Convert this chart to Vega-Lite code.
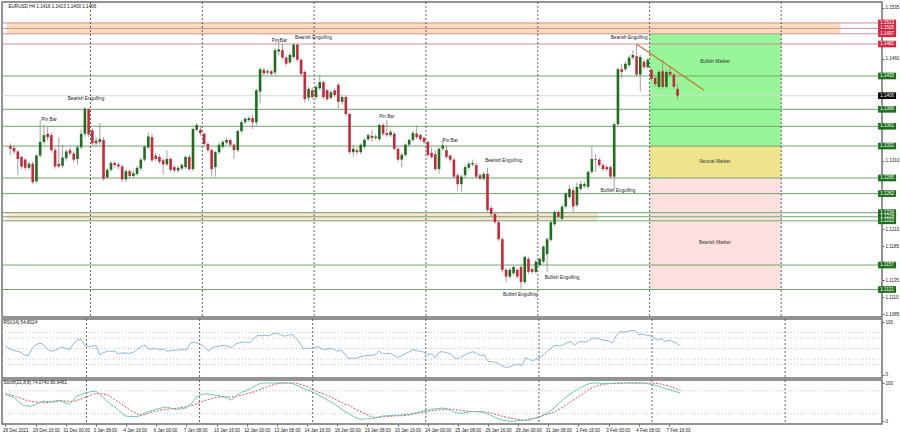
{
"$schema":"https://vega.github.io/schema/vega-lite/v6.json",
"padding":0,
"spacing":2,
"bounds":"flush",
"background":"white",
"config":{"view":{"stroke":"#707070","strokeWidth":1.5},"font":"Liberation Sans","axis":{"labelFont":"Liberation Sans","labelFontSize":4.5,"labelColor":"#222","tickColor":"#666","tickSize":2,"labelPadding":1,"domain":false,"grid":false}},
"datasets":{
"bars":[
{"i":0,"o":1.1332,"h":1.1336,"l":1.1318,"c":1.1328,"r":56,"k":70,"d":73},
{"i":1,"o":1.1329,"h":1.1333,"l":1.1320,"c":1.1324,"r":50,"k":67,"d":70},
{"i":2,"o":1.1324,"h":1.1326,"l":1.1289,"c":1.1313,"r":47,"k":64,"d":67},
{"i":3,"o":1.1316,"h":1.1318,"l":1.1298,"c":1.1302,"r":45,"k":56,"d":64},
{"i":4,"o":1.1312,"h":1.1314,"l":1.1296,"c":1.1300,"r":43,"k":48,"d":61},
{"i":5,"o":1.1300,"h":1.1309,"l":1.1297,"c":1.1306,"r":38,"k":41,"d":57},
{"i":6,"o":1.1306,"h":1.1309,"l":1.1276,"c":1.1279,"r":36,"k":40,"d":54},
{"i":7,"o":1.1280,"h":1.1320,"l":1.1278,"c":1.1318,"r":49,"k":40,"d":52},
{"i":8,"o":1.1318,"h":1.1370,"l":1.1315,"c":1.1338,"r":57,"k":44,"d":51},
{"i":9,"o":1.1338,"h":1.1363,"l":1.1334,"c":1.1348,"r":60,"k":49,"d":50},
{"i":10,"o":1.1350,"h":1.1360,"l":1.1340,"c":1.1345,"r":58,"k":53,"d":49},
{"i":11,"o":1.1348,"h":1.1352,"l":1.1322,"c":1.1326,"r":50,"k":52,"d":49},
{"i":12,"o":1.1326,"h":1.1330,"l":1.1299,"c":1.1302,"r":45,"k":51,"d":50},
{"i":13,"o":1.1306,"h":1.1345,"l":1.1299,"c":1.1302,"r":46,"k":53,"d":51},
{"i":14,"o":1.1303,"h":1.1334,"l":1.1300,"c":1.1315,"r":49,"k":55,"d":53},
{"i":15,"o":1.1314,"h":1.1327,"l":1.1310,"c":1.1324,"r":53,"k":52,"d":54},
{"i":16,"o":1.1326,"h":1.1330,"l":1.1318,"c":1.1321,"r":50,"k":48,"d":53},
{"i":17,"o":1.1321,"h":1.1324,"l":1.1308,"c":1.1312,"r":48,"k":45,"d":52},
{"i":18,"o":1.1313,"h":1.1333,"l":1.1305,"c":1.1330,"r":58,"k":55,"d":52},
{"i":19,"o":1.1330,"h":1.1356,"l":1.1327,"c":1.1350,"r":66,"k":66,"d":55},
{"i":20,"o":1.1350,"h":1.1389,"l":1.1345,"c":1.1387,"r":67,"k":70,"d":58},
{"i":21,"o":1.1386,"h":1.1388,"l":1.1345,"c":1.1349,"r":57,"k":74,"d":62},
{"i":22,"o":1.1355,"h":1.1358,"l":1.1333,"c":1.1336,"r":54,"k":76,"d":66},
{"i":23,"o":1.1340,"h":1.1345,"l":1.1331,"c":1.1336,"r":54,"k":78,"d":70},
{"i":24,"o":1.1338,"h":1.1366,"l":1.1334,"c":1.1342,"r":56,"k":79,"d":73},
{"i":25,"o":1.1341,"h":1.1345,"l":1.1281,"c":1.1284,"r":38,"k":70,"d":73},
{"i":26,"o":1.1286,"h":1.1300,"l":1.1283,"c":1.1297,"r":42,"k":62,"d":71},
{"i":27,"o":1.1297,"h":1.1310,"l":1.1294,"c":1.1307,"r":45,"k":52,"d":70},
{"i":28,"o":1.1307,"h":1.1310,"l":1.1300,"c":1.1304,"r":45,"k":44,"d":64},
{"i":29,"o":1.1305,"h":1.1308,"l":1.1298,"c":1.1302,"r":45,"k":38,"d":57},
{"i":30,"o":1.1302,"h":1.1305,"l":1.1279,"c":1.1283,"r":40,"k":30,"d":51},
{"i":31,"o":1.1283,"h":1.1298,"l":1.1279,"c":1.1295,"r":42,"k":20,"d":44},
{"i":32,"o":1.1295,"h":1.1298,"l":1.1284,"c":1.1288,"r":41,"k":14,"d":37},
{"i":33,"o":1.1288,"h":1.1296,"l":1.1285,"c":1.1292,"r":41,"k":13,"d":30},
{"i":34,"o":1.1291,"h":1.1303,"l":1.1288,"c":1.1300,"r":43,"k":13,"d":25},
{"i":35,"o":1.1299,"h":1.1315,"l":1.1296,"c":1.1312,"r":48,"k":13,"d":20},
{"i":36,"o":1.1312,"h":1.1334,"l":1.1309,"c":1.1331,"r":54,"k":17,"d":16},
{"i":37,"o":1.1330,"h":1.1352,"l":1.1327,"c":1.1346,"r":56,"k":22,"d":18},
{"i":38,"o":1.1345,"h":1.1350,"l":1.1308,"c":1.1311,"r":49,"k":26,"d":22},
{"i":39,"o":1.1318,"h":1.1322,"l":1.1310,"c":1.1313,"r":49,"k":29,"d":25},
{"i":40,"o":1.1316,"h":1.1320,"l":1.1306,"c":1.1309,"r":50,"k":32,"d":27},
{"i":41,"o":1.1311,"h":1.1314,"l":1.1290,"c":1.1305,"r":48,"k":34,"d":29},
{"i":42,"o":1.1305,"h":1.1326,"l":1.1302,"c":1.1313,"r":49,"k":37,"d":31},
{"i":43,"o":1.1313,"h":1.1316,"l":1.1294,"c":1.1297,"r":45,"k":37,"d":32},
{"i":44,"o":1.1301,"h":1.1304,"l":1.1293,"c":1.1296,"r":46,"k":34,"d":33},
{"i":45,"o":1.1296,"h":1.1303,"l":1.1293,"c":1.1300,"r":47,"k":32,"d":34},
{"i":46,"o":1.1299,"h":1.1307,"l":1.1296,"c":1.1304,"r":47,"k":32,"d":35},
{"i":47,"o":1.1301,"h":1.1318,"l":1.1298,"c":1.1316,"r":48,"k":33,"d":37},
{"i":48,"o":1.1316,"h":1.1319,"l":1.1295,"c":1.1298,"r":47,"k":36,"d":39},
{"i":49,"o":1.1298,"h":1.1359,"l":1.1295,"c":1.1357,"r":60,"k":42,"d":41},
{"i":50,"o":1.1356,"h":1.1366,"l":1.1353,"c":1.1363,"r":62,"k":55,"d":43},
{"i":51,"o":1.1356,"h":1.1362,"l":1.1347,"c":1.1351,"r":60,"k":66,"d":47},
{"i":52,"o":1.1350,"h":1.1352,"l":1.1332,"c":1.1335,"r":57,"k":70,"d":51},
{"i":53,"o":1.1335,"h":1.1338,"l":1.1322,"c":1.1326,"r":52,"k":72,"d":55},
{"i":54,"o":1.1326,"h":1.1328,"l":1.1287,"c":1.1298,"r":45,"k":71,"d":57},
{"i":55,"o":1.1301,"h":1.1325,"l":1.1287,"c":1.1323,"r":52,"k":69,"d":60},
{"i":56,"o":1.1323,"h":1.1337,"l":1.1320,"c":1.1334,"r":54,"k":68,"d":63},
{"i":57,"o":1.1331,"h":1.1341,"l":1.1328,"c":1.1338,"r":55,"k":66,"d":64},
{"i":58,"o":1.1337,"h":1.1344,"l":1.1334,"c":1.1341,"r":56,"k":64,"d":64},
{"i":59,"o":1.1341,"h":1.1343,"l":1.1331,"c":1.1334,"r":54,"k":60,"d":64},
{"i":60,"o":1.1334,"h":1.1336,"l":1.1313,"c":1.1326,"r":52,"k":56,"d":64},
{"i":61,"o":1.1326,"h":1.1356,"l":1.1323,"c":1.1354,"r":58,"k":64,"d":65},
{"i":62,"o":1.1354,"h":1.1370,"l":1.1351,"c":1.1367,"r":61,"k":72,"d":67},
{"i":63,"o":1.1367,"h":1.1375,"l":1.1364,"c":1.1372,"r":62,"k":77,"d":69},
{"i":64,"o":1.1370,"h":1.1376,"l":1.1367,"c":1.1373,"r":62,"k":81,"d":72},
{"i":65,"o":1.1373,"h":1.1378,"l":1.1357,"c":1.1367,"r":61,"k":86,"d":75},
{"i":66,"o":1.1367,"h":1.1416,"l":1.1362,"c":1.1414,"r":70,"k":91,"d":77},
{"i":67,"o":1.1412,"h":1.1448,"l":1.1395,"c":1.1445,"r":75,"k":96,"d":81},
{"i":68,"o":1.1444,"h":1.1447,"l":1.1436,"c":1.1439,"r":74,"k":100,"d":85},
{"i":69,"o":1.1440,"h":1.1445,"l":1.1437,"c":1.1442,"r":75,"k":100,"d":89},
{"i":70,"o":1.1442,"h":1.1444,"l":1.1435,"c":1.1438,"r":74,"k":100,"d":92},
{"i":71,"o":1.1440,"h":1.1476,"l":1.1436,"c":1.1473,"r":78,"k":100,"d":95},
{"i":72,"o":1.1471,"h":1.1490,"l":1.1465,"c":1.1474,"r":79,"k":100,"d":98},
{"i":73,"o":1.1473,"h":1.1482,"l":1.1459,"c":1.1462,"r":76,"k":100,"d":100},
{"i":74,"o":1.1462,"h":1.1464,"l":1.1450,"c":1.1453,"r":73,"k":100,"d":100},
{"i":75,"o":1.1455,"h":1.1469,"l":1.1452,"c":1.1466,"r":75,"k":100,"d":100},
{"i":76,"o":1.1463,"h":1.1484,"l":1.1460,"c":1.1481,"r":77,"k":99,"d":100},
{"i":77,"o":1.1481,"h":1.1483,"l":1.1456,"c":1.1459,"r":70,"k":95,"d":100},
{"i":78,"o":1.1459,"h":1.1461,"l":1.1435,"c":1.1438,"r":62,"k":91,"d":97},
{"i":79,"o":1.1441,"h":1.1443,"l":1.1396,"c":1.1401,"r":49,"k":86,"d":94},
{"i":80,"o":1.1403,"h":1.1419,"l":1.1398,"c":1.1416,"r":51,"k":82,"d":91},
{"i":81,"o":1.1414,"h":1.1418,"l":1.1401,"c":1.1404,"r":50,"k":79,"d":86},
{"i":82,"o":1.1404,"h":1.1422,"l":1.1400,"c":1.1419,"r":52,"k":74,"d":81},
{"i":83,"o":1.1417,"h":1.1437,"l":1.1414,"c":1.1426,"r":53,"k":69,"d":76},
{"i":84,"o":1.1426,"h":1.1428,"l":1.1401,"c":1.1404,"r":49,"k":64,"d":73},
{"i":85,"o":1.1414,"h":1.1416,"l":1.1398,"c":1.1401,"r":48,"k":58,"d":69},
{"i":86,"o":1.1403,"h":1.1414,"l":1.1400,"c":1.1411,"r":50,"k":52,"d":65},
{"i":87,"o":1.1414,"h":1.1417,"l":1.1404,"c":1.1407,"r":49,"k":47,"d":60},
{"i":88,"o":1.1422,"h":1.1425,"l":1.1387,"c":1.1397,"r":45,"k":40,"d":55},
{"i":89,"o":1.1397,"h":1.1408,"l":1.1393,"c":1.1404,"r":47,"k":33,"d":50},
{"i":90,"o":1.1404,"h":1.1407,"l":1.1376,"c":1.1379,"r":40,"k":26,"d":45},
{"i":91,"o":1.1379,"h":1.1381,"l":1.1320,"c":1.1323,"r":31,"k":21,"d":43},
{"i":92,"o":1.1323,"h":1.1334,"l":1.1316,"c":1.1328,"r":32,"k":15,"d":37},
{"i":93,"o":1.1326,"h":1.1330,"l":1.1320,"c":1.1323,"r":31,"k":10,"d":31},
{"i":94,"o":1.1323,"h":1.1336,"l":1.1320,"c":1.1334,"r":34,"k":6,"d":27},
{"i":95,"o":1.1331,"h":1.1344,"l":1.1328,"c":1.1341,"r":36,"k":6,"d":22},
{"i":96,"o":1.1342,"h":1.1350,"l":1.1339,"c":1.1348,"r":37,"k":7,"d":17},
{"i":97,"o":1.1347,"h":1.1356,"l":1.1338,"c":1.1344,"r":37,"k":7,"d":13},
{"i":98,"o":1.1344,"h":1.1349,"l":1.1341,"c":1.1346,"r":38,"k":9,"d":10},
{"i":99,"o":1.1342,"h":1.1365,"l":1.1339,"c":1.1363,"r":45,"k":12,"d":11},
{"i":100,"o":1.1363,"h":1.1366,"l":1.1347,"c":1.1350,"r":41,"k":14,"d":12},
{"i":101,"o":1.1351,"h":1.1370,"l":1.1345,"c":1.1348,"r":40,"k":15,"d":13},
{"i":102,"o":1.1348,"h":1.1356,"l":1.1345,"c":1.1353,"r":41,"k":15,"d":14},
{"i":103,"o":1.1350,"h":1.1353,"l":1.1325,"c":1.1328,"r":37,"k":16,"d":14},
{"i":104,"o":1.1328,"h":1.1330,"l":1.1309,"c":1.1312,"r":33,"k":16,"d":15},
{"i":105,"o":1.1312,"h":1.1322,"l":1.1301,"c":1.1319,"r":36,"k":17,"d":15},
{"i":106,"o":1.1319,"h":1.1336,"l":1.1316,"c":1.1334,"r":40,"k":18,"d":16},
{"i":107,"o":1.1334,"h":1.1343,"l":1.1331,"c":1.1341,"r":43,"k":19,"d":17},
{"i":108,"o":1.1341,"h":1.1354,"l":1.1338,"c":1.1351,"r":48,"k":20,"d":19},
{"i":109,"o":1.1350,"h":1.1362,"l":1.1342,"c":1.1345,"r":46,"k":23,"d":21},
{"i":110,"o":1.1348,"h":1.1350,"l":1.1339,"c":1.1342,"r":45,"k":25,"d":23},
{"i":111,"o":1.1344,"h":1.1346,"l":1.1335,"c":1.1338,"r":43,"k":28,"d":25},
{"i":112,"o":1.1338,"h":1.1340,"l":1.1316,"c":1.1319,"r":38,"k":30,"d":26},
{"i":113,"o":1.1322,"h":1.1330,"l":1.1313,"c":1.1316,"r":40,"k":32,"d":28},
{"i":114,"o":1.1320,"h":1.1326,"l":1.1295,"c":1.1298,"r":33,"k":33,"d":29},
{"i":115,"o":1.1298,"h":1.1330,"l":1.1291,"c":1.1328,"r":43,"k":34,"d":30},
{"i":116,"o":1.1328,"h":1.1341,"l":1.1325,"c":1.1333,"r":44,"k":35,"d":31},
{"i":117,"o":1.1326,"h":1.1333,"l":1.1313,"c":1.1316,"r":42,"k":33,"d":32},
{"i":118,"o":1.1318,"h":1.1320,"l":1.1309,"c":1.1312,"r":40,"k":29,"d":32},
{"i":119,"o":1.1312,"h":1.1314,"l":1.1284,"c":1.1287,"r":33,"k":25,"d":31},
{"i":120,"o":1.1289,"h":1.1292,"l":1.1267,"c":1.1276,"r":30,"k":22,"d":30},
{"i":121,"o":1.1276,"h":1.1290,"l":1.1264,"c":1.1287,"r":35,"k":21,"d":29},
{"i":122,"o":1.1289,"h":1.1304,"l":1.1286,"c":1.1301,"r":38,"k":23,"d":27},
{"i":123,"o":1.1300,"h":1.1309,"l":1.1297,"c":1.1306,"r":42,"k":25,"d":26},
{"i":124,"o":1.1305,"h":1.1312,"l":1.1302,"c":1.1307,"r":44,"k":26,"d":26},
{"i":125,"o":1.1304,"h":1.1307,"l":1.1284,"c":1.1287,"r":40,"k":26,"d":25},
{"i":126,"o":1.1289,"h":1.1292,"l":1.1282,"c":1.1284,"r":37,"k":26,"d":25},
{"i":127,"o":1.1284,"h":1.1294,"l":1.1281,"c":1.1291,"r":38,"k":23,"d":25},
{"i":128,"o":1.1291,"h":1.1300,"l":1.1235,"c":1.1238,"r":26,"k":19,"d":24},
{"i":129,"o":1.1241,"h":1.1244,"l":1.1229,"c":1.1232,"r":25,"k":15,"d":22},
{"i":130,"o":1.1232,"h":1.1235,"l":1.1217,"c":1.1220,"r":24,"k":10,"d":19},
{"i":131,"o":1.1220,"h":1.1223,"l":1.1192,"c":1.1195,"r":21,"k":6,"d":16},
{"i":132,"o":1.1195,"h":1.1198,"l":1.1146,"c":1.1150,"r":16,"k":3,"d":13},
{"i":133,"o":1.1150,"h":1.1153,"l":1.1132,"c":1.1140,"r":14,"k":2,"d":11},
{"i":134,"o":1.1140,"h":1.1153,"l":1.1137,"c":1.1150,"r":16,"k":0,"d":9},
{"i":135,"o":1.1145,"h":1.1157,"l":1.1142,"c":1.1154,"r":19,"k":1,"d":7},
{"i":136,"o":1.1150,"h":1.1152,"l":1.1137,"c":1.1140,"r":20,"k":2,"d":5},
{"i":137,"o":1.1154,"h":1.1157,"l":1.1122,"c":1.1132,"r":18,"k":2,"d":4},
{"i":138,"o":1.1132,"h":1.1171,"l":1.1129,"c":1.1169,"r":33,"k":3,"d":4},
{"i":139,"o":1.1166,"h":1.1169,"l":1.1144,"c":1.1147,"r":29,"k":4,"d":6},
{"i":140,"o":1.1151,"h":1.1154,"l":1.1144,"c":1.1147,"r":27,"k":7,"d":8},
{"i":141,"o":1.1147,"h":1.1165,"l":1.1144,"c":1.1162,"r":31,"k":10,"d":10},
{"i":142,"o":1.1157,"h":1.1169,"l":1.1154,"c":1.1166,"r":34,"k":13,"d":13},
{"i":143,"o":1.1162,"h":1.1186,"l":1.1159,"c":1.1184,"r":40,"k":19,"d":17},
{"i":144,"o":1.1173,"h":1.1198,"l":1.1147,"c":1.1195,"r":46,"k":25,"d":20},
{"i":145,"o":1.1194,"h":1.1223,"l":1.1191,"c":1.1220,"r":53,"k":30,"d":22},
{"i":146,"o":1.1217,"h":1.1238,"l":1.1214,"c":1.1235,"r":56,"k":40,"d":27},
{"i":147,"o":1.1235,"h":1.1238,"l":1.1225,"c":1.1228,"r":55,"k":49,"d":33},
{"i":148,"o":1.1225,"h":1.1246,"l":1.1222,"c":1.1243,"r":57,"k":57,"d":38},
{"i":149,"o":1.1243,"h":1.1265,"l":1.1240,"c":1.1262,"r":61,"k":66,"d":45},
{"i":150,"o":1.1257,"h":1.1274,"l":1.1254,"c":1.1269,"r":63,"k":73,"d":52},
{"i":151,"o":1.1267,"h":1.1272,"l":1.1235,"c":1.1243,"r":56,"k":79,"d":58},
{"i":152,"o":1.1245,"h":1.1278,"l":1.1242,"c":1.1272,"r":62,"k":86,"d":64},
{"i":153,"o":1.1269,"h":1.1281,"l":1.1266,"c":1.1276,"r":63,"k":90,"d":71},
{"i":154,"o":1.1273,"h":1.1279,"l":1.1270,"c":1.1276,"r":62,"k":95,"d":78},
{"i":155,"o":1.1272,"h":1.1296,"l":1.1269,"c":1.1294,"r":67,"k":99,"d":85},
{"i":156,"o":1.1294,"h":1.1331,"l":1.1291,"c":1.1313,"r":70,"k":100,"d":89},
{"i":157,"o":1.1313,"h":1.1320,"l":1.1294,"c":1.1312,"r":69,"k":100,"d":93},
{"i":158,"o":1.1312,"h":1.1315,"l":1.1301,"c":1.1304,"r":67,"k":99,"d":95},
{"i":159,"o":1.1304,"h":1.1307,"l":1.1295,"c":1.1298,"r":65,"k":99,"d":97},
{"i":160,"o":1.1301,"h":1.1304,"l":1.1295,"c":1.1298,"r":65,"k":99,"d":98},
{"i":161,"o":1.1301,"h":1.1304,"l":1.1284,"c":1.1287,"r":60,"k":99,"d":99},
{"i":162,"o":1.1287,"h":1.1366,"l":1.1269,"c":1.1364,"r":74,"k":100,"d":99},
{"i":163,"o":1.1364,"h":1.1447,"l":1.1361,"c":1.1445,"r":82,"k":100,"d":99},
{"i":164,"o":1.1445,"h":1.1453,"l":1.1431,"c":1.1441,"r":81,"k":100,"d":100},
{"i":165,"o":1.1445,"h":1.1456,"l":1.1442,"c":1.1453,"r":82,"k":100,"d":100},
{"i":166,"o":1.1451,"h":1.1465,"l":1.1448,"c":1.1462,"r":84,"k":100,"d":100},
{"i":167,"o":1.1462,"h":1.1473,"l":1.1459,"c":1.1466,"r":84,"k":100,"d":100},
{"i":168,"o":1.1464,"h":1.1482,"l":1.1434,"c":1.1437,"r":76,"k":100,"d":100},
{"i":169,"o":1.1437,"h":1.1466,"l":1.1412,"c":1.1463,"r":77,"k":100,"d":100},
{"i":170,"o":1.1456,"h":1.1459,"l":1.1445,"c":1.1448,"r":75,"k":99,"d":100},
{"i":171,"o":1.1448,"h":1.1462,"l":1.1445,"c":1.1459,"r":74,"k":97,"d":100},
{"i":172,"o":1.1444,"h":1.1447,"l":1.1428,"c":1.1431,"r":70,"k":95,"d":99},
{"i":173,"o":1.1432,"h":1.1435,"l":1.1420,"c":1.1423,"r":66,"k":92,"d":99},
{"i":174,"o":1.1419,"h":1.1444,"l":1.1416,"c":1.1441,"r":69,"k":89,"d":97},
{"i":175,"o":1.1442,"h":1.1459,"l":1.1416,"c":1.1419,"r":63,"k":85,"d":94},
{"i":176,"o":1.1419,"h":1.1444,"l":1.1416,"c":1.1441,"r":66,"k":83,"d":92},
{"i":177,"o":1.1441,"h":1.1450,"l":1.1434,"c":1.1437,"r":63,"k":80,"d":88},
{"i":178,"o":1.1437,"h":1.1439,"l":1.1416,"c":1.1419,"r":60,"k":77,"d":85},
{"i":179,"o":1.1416,"h":1.1423,"l":1.1400,"c":1.1406,"r":54.8,"k":74.07,"d":80.95}
],
"zones":[
{"x1":171.5,"x2":206.8,"top":1.1513,"bot":1.1332,"kind":"bull"},
{"x1":171.5,"x2":206.8,"top":1.1332,"bot":1.1285,"kind":"neut"},
{"x1":171.5,"x2":206.8,"top":1.1285,"bot":1.1121,"kind":"bear"},
{"x1":-0.9,"x2":222.7,"top":1.1513,"bot":1.1497,"kind":"band"},
{"x1":-0.9,"x2":157.7,"top":1.1234,"bot":1.1222,"kind":"band2"}
],
"levels":[
{"p":1.1513,"kind":"r"},{"p":1.1505,"kind":"r"},{"p":1.1497,"kind":"r"},{"p":1.1482,"kind":"r"},
{"p":1.1435,"kind":"g"},{"p":1.1406,"kind":"k"},{"p":1.1386,"kind":"g"},{"p":1.1361,"kind":"g"},
{"p":1.1332,"kind":"g"},{"p":1.1285,"kind":"g"},{"p":1.1262,"kind":"g"},{"p":1.1234,"kind":"g"},
{"p":1.1228,"kind":"g"},{"p":1.1222,"kind":"g"},{"p":1.1157,"kind":"g"},{"p":1.1121,"kind":"g"}
],
"seps":[{"i":21.5},{"i":51.5},{"i":81.5},{"i":111.5},{"i":141.5},{"i":171.5},{"i":206.8}],
"notes":[
{"i":10.4,"p":1.1370,"t":"Pin Bar"},
{"i":20.3,"p":1.1401,"t":"Bearish Engulfing"},
{"i":72.2,"p":1.1487,"t":"Pin Bar"},
{"i":81.3,"p":1.1491,"t":"Bearish Engulfing"},
{"i":101,"p":1.1374,"t":"Pin Bar"},
{"i":118,"p":1.1340,"t":"Pin Bar"},
{"i":132.3,"p":1.1310,"t":"Bearish Engulfing"},
{"i":136.8,"p":1.1113,"t":"Bullish Engulfing"},
{"i":148,"p":1.1138,"t":"Bullish Engulfing"},
{"i":163,"p":1.1266,"t":"Bullish Engulfing"},
{"i":166,"p":1.1491,"t":"Bearish Engulfing"}
],
"zonelabels":[
{"i":189,"p":1.1456,"t":"Bullish Market"},
{"i":189,"p":1.1309,"t":"Neutral Market"},
{"i":189,"p":1.1189,"t":"Bearish Market"}
],
"trend":[{"i":168,"p":1.1482},{"i":186.1,"p":1.1414}],
"rsilev":[{"v":80},{"v":70},{"v":50},{"v":30},{"v":20}],
"stolev":[{"v":80},{"v":20}]
},
"vconcat":[
{
"width":880,"height":315,
"encoding":{"x":{"type":"quantitative","scale":{"domain":[-0.9,232.5],"nice":false,"zero":false},"axis":null}},
"layer":[
{"data":{"name":"zones"},"mark":{"type":"rect"},
 "encoding":{"x":{"field":"x1","type":"quantitative"},"x2":{"field":"x2"},
  "y":{"field":"top","type":"quantitative","scale":{"domain":[1.10806,1.15438],"nice":false,"zero":false},
   "axis":{"orient":"right","title":null,"values":[1.1085,1.111,1.1135,1.1185,1.121,1.131,1.146,1.1535],"format":".4f"}},
  "y2":{"field":"bot"},
  "fill":{"field":"kind","type":"nominal","legend":null,"scale":{"domain":["bull","neut","bear","band","band2","r","g","k"],"range":["#98f598","#efe38c","#fde1df","#fddcbc","#fde3d3","#d22b45","#1f6f1f","#000000"]}}}},
{"data":{"name":"levels"},"mark":{"type":"rule","strokeWidth":1},
 "encoding":{"y":{"field":"p","type":"quantitative"},
  "stroke":{"field":"kind","type":"nominal","legend":null,"scale":{"domain":["r","g","k"],"range":["#c98f99","#6fa36f","#d9d9d9"]}}}},
{"data":{"name":"seps"},"mark":{"type":"rule","stroke":"#404040","strokeWidth":0.8,"strokeDash":[2,2]},
 "encoding":{"x":{"field":"i","type":"quantitative"}}},
{"data":{"name":"trend"},"mark":{"type":"line","stroke":"#c8782c","strokeWidth":1.2},
 "encoding":{"x":{"field":"i","type":"quantitative"},"y":{"field":"p","type":"quantitative"}}},
{"data":{"name":"bars"},"mark":{"type":"rule","stroke":"#8a8a8a","strokeWidth":0.8},
 "encoding":{"x":{"field":"i","type":"quantitative"},"y":{"field":"l","type":"quantitative"},"y2":{"field":"h"}}},
{"data":{"name":"bars"},"mark":{"type":"bar","size":2.6},
 "encoding":{"x":{"field":"i","type":"quantitative"},"y":{"field":"o","type":"quantitative"},"y2":{"field":"c"},
  "color":{"condition":{"test":"datum.c >= datum.o","value":"#1d6e1d"},"value":"#c8283a"}}},
{"data":{"name":"notes"},"mark":{"type":"text","fontSize":4.7,"color":"#222","align":"center","baseline":"middle"},
 "encoding":{"x":{"field":"i","type":"quantitative"},"y":{"field":"p","type":"quantitative"},"text":{"field":"t"}}},
{"data":{"name":"zonelabels"},"mark":{"type":"text","fontSize":4.7,"color":"#333","align":"center","baseline":"middle"},
 "encoding":{"x":{"field":"i","type":"quantitative"},"y":{"field":"p","type":"quantitative"},"text":{"field":"t"}}},
{"data":{"values":[{"t":"EURUSD,H4  1.1416 1.1423 1.1400 1.1406"}]},"mark":{"type":"text","fontSize":4.6,"color":"#111","align":"left","baseline":"middle"},
 "encoding":{"x":{"datum":-0.5},"y":{"datum":1.1536},"text":{"field":"t"}}},
{"data":{"name":"levels"},"mark":{"type":"point","filled":true,"opacity":1,"strokeWidth":0,"shape":"M-1,-0.37L1,-0.37L1,0.37L-1,0.37Z","size":324},
 "encoding":{"x":{"datum":235.2},"y":{"field":"p","type":"quantitative"},
  "fill":{"field":"kind","type":"nominal","legend":null,"scale":{"domain":["bull","neut","bear","band","band2","r","g","k"],"range":["#98f598","#efe38c","#fde1df","#fddcbc","#fde3d3","#d22b45","#1f6f1f","#000000"]}}}},
{"data":{"name":"levels"},"mark":{"type":"text","fontSize":4.5,"color":"white","align":"center","baseline":"middle"},
 "encoding":{"x":{"datum":235.2},"y":{"field":"p","type":"quantitative"},"text":{"field":"p","type":"quantitative","format":".4f"}}}
]
},
{
"width":880,"height":59,
"encoding":{"x":{"type":"quantitative","scale":{"domain":[-0.9,232.5],"nice":false,"zero":false},"axis":null}},
"layer":[
{"data":{"name":"rsilev"},"mark":{"type":"rule","stroke":"#b5b5b5","strokeWidth":0.8,"strokeDash":[1,2]},
 "encoding":{"y":{"field":"v","type":"quantitative","scale":{"domain":[-5.7,105.7],"nice":false,"zero":false},"axis":{"orient":"right","title":null,"values":[0,20,30,50,70,80,100]}}}},
{"data":{"name":"seps"},"mark":{"type":"rule","stroke":"#404040","strokeWidth":0.8,"strokeDash":[2,2]},
 "encoding":{"x":{"field":"i","type":"quantitative"}}},
{"data":{"name":"bars"},"mark":{"type":"line","stroke":"#7fb2d6","strokeWidth":0.9},
 "encoding":{"x":{"field":"i","type":"quantitative"},"y":{"field":"r","type":"quantitative"}}},
{"data":{"values":[{"t":"RSI(14) 54.8024"}]},"mark":{"type":"text","fontSize":4.6,"color":"#111","align":"left","baseline":"middle"},
 "encoding":{"x":{"datum":-0.5},"y":{"datum":98},"text":{"field":"t"}}}
]
},
{
"width":880,"height":44,
"encoding":{"x":{"type":"quantitative","scale":{"domain":[-0.9,232.5],"nice":false,"zero":false},
 "axis":{"title":null,"values":[0,8,16,24,32,40,48,56,64,72,80,88,96,104,112,120,128,136,144,152,160,168,176],"labelAlign":"left","labelOffset":-3,"labelFlush":false,"labelOverlap":false,"labelPadding":1,
 "labelExpr":"['28 Dec 2021','29 Dec 16:00','31 Dec 00:00','3 Jan 08:00','4 Jan 16:00','6 Jan 00:00','7 Jan 08:00','10 Jan 16:00','12 Jan 00:00','13 Jan 08:00','14 Jan 16:00','18 Jan 00:00','19 Jan 08:00','20 Jan 16:00','24 Jan 00:00','25 Jan 08:00','26 Jan 16:00','28 Jan 00:00','31 Jan 08:00','1 Feb 16:00','3 Feb 00:00','4 Feb 08:00','7 Feb 16:00'][round(datum.value/8)]"}}},
"layer":[
{"data":{"name":"stolev"},"mark":{"type":"rule","stroke":"#b5b5b5","strokeWidth":0.8,"strokeDash":[1,2]},
 "encoding":{"y":{"field":"v","type":"quantitative","scale":{"domain":[-6.5,107.8],"nice":false,"zero":false},"axis":{"orient":"right","title":null,"values":[0,20,80,100]}}}},
{"data":{"name":"seps"},"mark":{"type":"rule","stroke":"#404040","strokeWidth":0.8,"strokeDash":[2,2]},
 "encoding":{"x":{"field":"i","type":"quantitative"}}},
{"data":{"name":"bars"},"mark":{"type":"line","stroke":"#d0463c","strokeWidth":0.9,"strokeDash":[2,1.5]},
 "encoding":{"x":{"field":"i","type":"quantitative"},"y":{"field":"d","type":"quantitative"}}},
{"data":{"name":"bars"},"mark":{"type":"line","stroke":"#5fbfae","strokeWidth":0.9},
 "encoding":{"x":{"field":"i","type":"quantitative"},"y":{"field":"k","type":"quantitative"}}},
{"data":{"values":[{"t":"Stoch(21,8,8) 74.0740 80.9461"}]},"mark":{"type":"text","fontSize":4.6,"color":"#111","align":"left","baseline":"middle"},
 "encoding":{"x":{"datum":-0.5},"y":{"datum":99},"text":{"field":"t"}}}
]
}
]
}
